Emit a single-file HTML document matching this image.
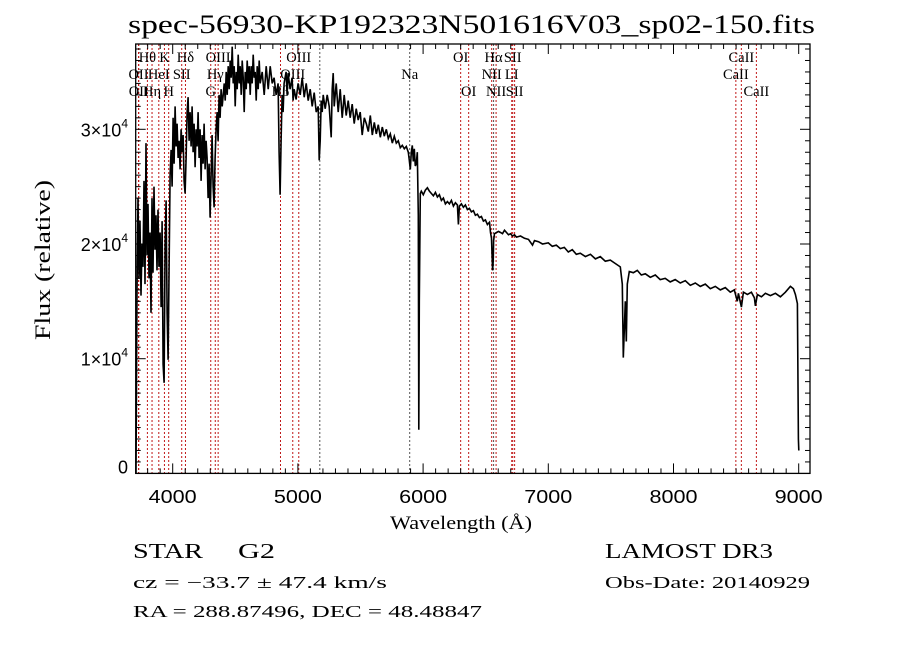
<!DOCTYPE html>
<html>
<head>
<meta charset="utf-8">
<style>
html,body{margin:0;padding:0;background:#fff;}
svg{display:block;}
text{fill:#000;}
</style>
</head>
<body>
<svg id="chart" width="900" height="649" viewBox="0 0 900 649" xmlns="http://www.w3.org/2000/svg">
  <rect x="0" y="0" width="900" height="649" fill="#fff"/>
  <text x="128" y="33" font-family="Liberation Serif, serif" font-size="26" textLength="687" lengthAdjust="spacingAndGlyphs">spec-56930-KP192323N501616V03_sp02-150.fits</text>
  <g id="lines"></g>
  <g id="labels"></g>
  <g id="series"></g>
  <g id="axes"></g>
  <text x="390" y="529" font-family="Liberation Serif, serif" font-size="19" textLength="142" lengthAdjust="spacingAndGlyphs">Wavelength (Å)</text>
  <text transform="translate(50,340) rotate(-90)" x="0" y="0" font-family="Liberation Serif, serif" font-size="22" textLength="160" lengthAdjust="spacingAndGlyphs">Flux (relative)</text>
  <text x="133" y="558" font-family="Liberation Serif, serif" font-size="21" textLength="70" lengthAdjust="spacingAndGlyphs">STAR</text>
  <text x="238" y="558" font-family="Liberation Serif, serif" font-size="21" textLength="37" lengthAdjust="spacingAndGlyphs">G2</text>
  <text x="605" y="558" font-family="Liberation Serif, serif" font-size="21" textLength="168" lengthAdjust="spacingAndGlyphs">LAMOST DR3</text>
  <text x="133" y="588" font-family="Liberation Serif, serif" font-size="17" textLength="254" lengthAdjust="spacingAndGlyphs">cz = −33.7 ± 47.4 km/s</text>
  <text x="605" y="588" font-family="Liberation Serif, serif" font-size="17" textLength="205" lengthAdjust="spacingAndGlyphs">Obs-Date: 20140929</text>
  <text x="133" y="617" font-family="Liberation Serif, serif" font-size="17" textLength="349" lengthAdjust="spacingAndGlyphs">RA = 288.87496, DEC =  48.48847</text>
</svg>
<script>
// ---- data ----
const wavelengths = [3707,3715,3723,3731,3739,3747,3755,3763,3771,3779,3787,3795,3803,3811,3819,3827,3835,3843,3851,3859,3867,3875,3883,3891,3899,3907,3915,3923,3931,3939,3947,3955,3963,3971,3979,3987,3995,4003,4011,4019,4027,4035,4043,4051,4059,4067,4075,4083,4091,4099,4107,4115,4123,4131,4139,4147,4155,4163,4171,4179,4187,4195,4203,4211,4219,4227,4235,4243,4251,4259,4267,4275,4283,4291,4299,4307,4315,4323,4331,4339,4347,4355,4363,4371,4379,4387,4395,4411,4419,4427,4435,4443,4451,4459,4467,4475,4483,4491,4499,4507,4515,4523,4531,4539,4547,4555,4563,4571,4579,4587,4595,4603,4611,4619,4627,4635,4643,4651,4659,4667,4675,4683,4691,4699,4715,4731,4747,4763,4779,4795,4810,4826,4842,4850,4858,4866,4874,4882,4890,4906,4914,4922,4938,4954,4962,4970,4986,5002,5018,5034,5050,5066,5082,5098,5114,5130,5146,5162,5170,5178,5186,5194,5202,5218,5234,5250,5266,5274,5282,5290,5306,5322,5338,5354,5370,5386,5402,5418,5434,5450,5466,5482,5498,5514,5530,5546,5562,5578,5594,5610,5626,5642,5658,5674,5690,5706,5722,5738,5754,5770,5786,5802,5818,5834,5850,5866,5882,5890,5898,5906,5914,5922,5930,5938,5946,5954,5962,5966,5970,5978,5986,6002,6018,6034,6050,6066,6082,6098,6114,6130,6146,6162,6178,6194,6210,6226,6242,6258,6274,6282,6290,6306,6322,6338,6354,6370,6386,6402,6418,6434,6450,6466,6482,6498,6514,6530,6538,6546,6555,6560,6563,6570,6586,6602,6618,6634,6650,6666,6682,6698,6714,6730,6746,6778,6810,6842,6874,6890,6922,6954,7000,7032,7064,7096,7128,7160,7192,7224,7256,7296,7336,7376,7415,7455,7495,7535,7575,7591,7599,7607,7615,7623,7631,7647,7679,7711,7743,7775,7815,7855,7894,7934,7974,8014,8054,8094,8134,8174,8214,8254,8294,8334,8374,8414,8454,8486,8510,8518,8542,8558,8590,8622,8646,8654,8670,8702,8734,8774,8814,8854,8894,8934,8958,8974,8990,8998,9001];
const fluxValues = [0,16000,24000,17000,22000,15500,20000,18000,25500,16500,28800,19000,23500,17000,21000,14000,24000,17500,25000,19500,22500,17700,23000,18000,21000,14500,22000,9500,7900,20000,23800,14000,9900,18000,26000,28200,25000,31000,27000,32000,28500,30500,27500,29000,26500,30000,28000,29500,25500,24400,27500,31500,32800,29000,31500,28500,32000,28000,30500,26700,30000,28500,31500,27500,30000,25500,29500,27000,30500,26500,29000,27500,24000,27000,22300,26000,29500,25000,23200,27500,30000,31500,29000,33000,31000,33500,32000,34000,32500,35000,33000,35500,33500,36000,34500,37200,34000,35500,32000,35000,33500,36500,34000,35500,33000,36000,34500,31500,35000,33500,36000,34000,35500,33000,35500,34000,36500,34500,35000,32500,35500,33500,36000,34000,35000,33000,35500,33500,35500,34000,34500,33000,34000,28000,24300,29000,33000,31500,34000,35000,33000,34900,33500,34500,32500,33500,32600,34000,33000,34500,32800,34000,32500,33500,32000,33200,31500,32000,27300,29000,32500,31500,33000,31800,33000,32000,29300,33500,34900,32000,34000,31500,33500,31000,33000,31200,32500,31000,32200,30500,31800,30800,31500,29500,31000,30500,29800,31200,29500,30600,29600,30400,29300,30200,29400,30000,29200,29600,28800,29400,28800,29000,28400,28600,28300,28500,28000,27300,26500,28000,28600,27200,28300,26800,27000,28000,22500,3800,15000,24400,24600,24300,24700,24900,24600,24400,24200,24500,24100,24300,23800,24000,23500,23700,23500,23800,23300,23600,23400,21700,23300,23500,23200,23400,23000,23100,22800,22900,22500,22600,22300,22400,22000,22100,21700,21900,21000,20500,17700,18500,20300,20900,21000,21100,21000,20900,21200,21000,20800,20900,20700,20800,20600,20700,20500,20400,19900,20300,20200,20000,20100,19800,19900,19600,19700,19300,19500,19100,19200,18900,19100,18700,18900,18500,18600,18300,18000,16500,10100,12500,15000,11500,16500,17600,17500,17700,17300,17400,17100,17300,16900,17000,16700,16900,16600,16800,16400,16600,16300,16500,16100,16300,16000,16200,15800,16000,15000,15700,14500,15800,15600,15800,15300,14600,15600,15400,15700,15500,15700,15400,15800,16300,16100,15600,14800,3000,2000];
const xTickValues = [4000,5000,6000,7000,8000,9000];
const xTickLabels = ["4000","5000","6000","7000","8000","9000"];
const yTickValues = [0,10000,20000,30000];
const yTickMantissa = ["0","1","2","3"];
const lineWavelengths = [3727,3729,3798,3835,3889,3934,3968,4072,4102,4304,4340,4363,4861,4959,5007,5175,5893,6300,6364,6548,6563,6583,6708,6716,6731,8498,8542,8662];
const lineNames = ["OII","OII","Hθ","Hη","HeI","K","H","SII","Hδ","G","Hγ","OIII","Hβ","OIII","OIII","","Na","OI","OI","NII","Hα","NII","LI","SII","SII","CaII","CaII","CaII"];
const lineRows = [2,3,1,3,2,1,3,2,1,3,2,1,3,2,1,0,2,1,3,2,1,3,2,1,3,2,1,3];

// ---- axis functions ----
const L=135.7, R=810, T=44, B=473.4;
const X0=3704.5, X1=3704.5+(R-L)/0.1252;
const Y0=0, Y1=(B-T)/114.7*10000;
const xs = v => L + (v-X0)/(X1-X0)*(R-L);
const ys = v => B - (v-Y0)/(Y1-Y0)*(B-T);
const NS="http://www.w3.org/2000/svg";
function mk(tag, attrs, parent){const e=document.createElementNS(NS,tag);for(const k in attrs)e.setAttribute(k,attrs[k]);parent.appendChild(e);return e;}

// spectral lines
const gL=document.getElementById('lines'), gT=document.getElementById('labels');
const rowY=[0,62,79,96];
lineWavelengths.forEach((w,i)=>{
  const x=xs(w);
  const ln=mk('line',{x1:x,x2:x,y1:T,y2:B,stroke:(lineNames[i]===''||lineNames[i]==='Na'||lineNames[i]==='Hα')?'#555':'#c01818','stroke-width':1,'stroke-dasharray':'2,2'},gL);
  
  
  if(lineRows[i]>0){
    const t=mk('text',{x:x,y:rowY[lineRows[i]],'text-anchor':'middle','font-family':'Liberation Serif, serif','font-size':14.5},gT);
    t.textContent=lineNames[i];
    
    
  }
});

// spectrum
const gS=document.getElementById('series');
let d='';
wavelengths.forEach((w,i)=>{d+=(i?'L':'M')+xs(w).toFixed(1)+','+ys(fluxValues[i]).toFixed(1);});
const path=mk('path',{d:d,fill:'none',stroke:'#000','stroke-width':1.6,'stroke-linejoin':'miter'},gS);



// axes
const gA=document.getElementById('axes');
const frame=mk('rect',{x:L,y:T,width:R-L,height:B-T,fill:'none',stroke:'#000','stroke-width':1.3},gA);


for(let w=3800; w<=X1; w+=100){
  const major=(w%1000===0); const len=major?10:5; const x=xs(w);
  const t1=mk('line',{x1:x,x2:x,y1:B,y2:B-len,stroke:'#000','stroke-width':1},gA);
  
  
  const t2=mk('line',{x1:x,x2:x,y1:T,y2:T+len,stroke:'#000','stroke-width':1},gA);
  
  
}
xTickValues.forEach((v,i)=>{
  const t=mk('text',{x:xs(v),y:503,'text-anchor':'middle','font-family':'Liberation Sans, sans-serif','font-size':18,textLength:48,lengthAdjust:'spacingAndGlyphs'},gA);
  t.textContent=xTickLabels[i];
  
  
});
for(let f=1000; f<=Y1; f+=1000){
  const major=(f%10000===0); const len=major?10:5; const y=ys(f);
  const t1=mk('line',{x1:L,x2:L+len,y1:y,y2:y,stroke:'#000','stroke-width':1},gA);
  
  
  const t2=mk('line',{x1:R,x2:R-len,y1:y,y2:y,stroke:'#000','stroke-width':1},gA);
  
  
}
yTickValues.forEach((v,i)=>{
  const y=ys(v);
  const t=mk('text',{'text-anchor':'end','font-family':'Liberation Sans, sans-serif','font-size':18},gA);
  
  
  if(v===0){ t.setAttribute('x',128); t.setAttribute('y',y); t.textContent='0'; }
  else {
    t.setAttribute('x',128); t.setAttribute('y',y+7);
    const a=document.createElementNS(NS,'tspan'); a.textContent=yTickMantissa[i]+'×10'; t.appendChild(a);
    const b=document.createElementNS(NS,'tspan'); b.setAttribute('dy','-9'); b.setAttribute('font-size','12'); b.textContent=String(Math.round(Math.log10(v/Number(yTickMantissa[i])))); t.appendChild(b);
  }
});
</script>
</body>
</html>
